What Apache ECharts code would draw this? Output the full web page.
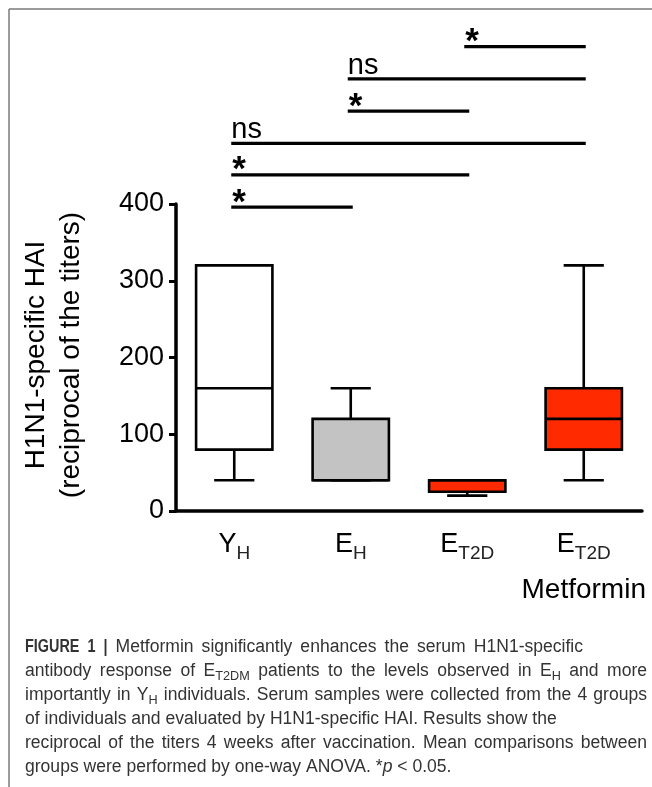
<!DOCTYPE html>
<html>
<head>
<meta charset="utf-8">
<script src="https://cdn.jsdelivr.net/npm/echarts@6/dist/echarts.min.js"></script>
<style>
html,body{margin:0;padding:0;background:#fff;}
#chart{width:652px;height:787px;}
</style>
</head>
<body>
<div id="chart"></div>
<script>
// ---- data ----
const categories = ['YH', 'EH', 'ET2D', 'ET2D Metformin'];
const labelMain = ['Y', 'E', 'E', 'E'];
const labelSub = ['H', 'H', 'T2D', 'T2D'];
const labelLine2 = ['', '', '', 'Metformin'];

const boxMin    = [40, 40, 20, 40];
const boxQ1     = [80, 40, 25, 80];
const boxMedian = [160, 40, 40, 120];
const boxQ3     = [320, 120, 40, 160];
const boxMax    = [320, 160, 40, 320];
const boxColors = ['#ffffff', '#c3c3c3', '#ff2a00', '#ff2a00'];

const sigFrom  = [0, 0, 0, 1, 1, 2];
const sigTo    = [1, 2, 3, 2, 3, 3];
const sigY     = [396, 438, 479, 521, 563, 605];
const sigLabel = ['*', '*', 'ns', '*', 'ns', '*'];

const yTicks = [0, 100, 200, 300, 400];

// caption words: {b|..} bold, {s|..} subscript, {i|..} italic
const captionLines = [
  '{b|FIGURE} {b|1} {b||} Metformin significantly enhances the serum H1N1-specific',
  'antibody response of E{s|T2DM} patients to the levels observed in E{s|H} and more',
  'importantly in Y{s|H} individuals. Serum samples were collected from the 4 groups',
  'of individuals and evaluated by H1N1-specific HAI. Results show the',
  'reciprocal of the titers 4 weeks after vaccination. Mean comparisons between',
  'groups were performed by one-way ANOVA. *{i|p} < 0.05.'
];
const captionJustifyTo = [583, 647, 647, null, 647, null];

// ---- build ----
const FONT = '"Liberation Sans", Arial, Helvetica, sans-serif';
const boxData = categories.map((c, i) => [i, boxMin[i], boxQ1[i], boxMedian[i], boxQ3[i], boxMax[i]]);
const sigData = sigFrom.map((f, i) => [f, sigTo[i], sigY[i]]);

function renderBox(params, api) {
  const i = api.value(0);
  const band = api.size([1, 0])[0];
  const bw = band * 0.655, cw = band * 0.345;
  const x = api.coord([i, 0])[0];
  const yMin = api.coord([i, api.value(1)])[1];
  const yQ1 = api.coord([i, api.value(2)])[1];
  const yMed = api.coord([i, api.value(3)])[1];
  const yQ3 = api.coord([i, api.value(4)])[1];
  const yMax = api.coord([i, api.value(5)])[1];
  const ls = { stroke: '#000', lineWidth: 2.6 };
  return {
    type: 'group',
    children: [
      { type: 'line', shape: { x1: x, y1: yQ1, x2: x, y2: yMin }, style: ls },
      { type: 'line', shape: { x1: x - cw / 2, y1: yMin, x2: x + cw / 2, y2: yMin }, style: ls },
      { type: 'line', shape: { x1: x, y1: yQ3, x2: x, y2: yMax }, style: ls },
      { type: 'line', shape: { x1: x - cw / 2, y1: yMax, x2: x + cw / 2, y2: yMax }, style: ls },
      { type: 'rect', shape: { x: x - bw / 2, y: yQ3, width: bw, height: yQ1 - yQ3 },
        style: { fill: boxColors[params.dataIndex], stroke: '#000', lineWidth: 2.6 } },
      { type: 'line', shape: { x1: x - bw / 2, y1: yMed, x2: x + bw / 2, y2: yMed }, style: ls }
    ]
  };
}

function renderSig(params, api) {
  const y = api.coord([0, api.value(2)])[1];
  const x1 = api.coord([api.value(0), 0])[0] - 3;
  const x2 = api.coord([api.value(1), 0])[0] + 2;
  const lab = sigLabel[params.dataIndex];
  const isStar = lab === '*';
  return {
    type: 'group',
    children: [
      { type: 'line', shape: { x1: x1, y1: y, x2: x2, y2: y }, style: { stroke: '#000', lineWidth: 3.2 } },
      { type: 'text', x: x1 + (isStar ? 1 : 0), y: isStar ? y - 4 : y - 13,
        style: { text: lab, textAlign: 'left', align: 'left', textVerticalAlign: 'middle', verticalAlign: 'middle',
                 font: isStar ? 'bold 35px ' + FONT : '29px ' + FONT, fill: '#000' } }
    ]
  };
}

// ---- caption layout (word placement with justification) ----
const CAP_SIZE = 18, SUB_SIZE = 13, BASE_SCALE = 0.975, BOLD_SCALE = 0.8;
const mctx = document.createElement('canvas').getContext('2d');
function fontFor(st) {
  if (st === 'b') return 'bold ' + CAP_SIZE + 'px ' + FONT;
  if (st === 'i') return 'italic ' + CAP_SIZE + 'px ' + FONT;
  if (st === 's') return SUB_SIZE + 'px ' + FONT;
  return CAP_SIZE + 'px ' + FONT;
}
function tokenize(word) {
  const out = [];
  const re = /\{(\w)\|([^}]*)\}|([^{]+)/g;
  let m;
  while ((m = re.exec(word))) {
    if (m[1]) out.push({ st: m[1], t: m[2] }); else out.push({ st: null, t: m[3] });
  }
  return out;
}
function measureWord(word) {
  return tokenize(word).reduce((w, tk) => { mctx.font = fontFor(tk.st); return w + mctx.measureText(tk.t).width; }, 0);
}
const capRich = {
  b: { fontWeight: 'bold', fontSize: CAP_SIZE, lineHeight: 24, fontFamily: FONT, color: '#1a1a1a' },
  s: { fontSize: SUB_SIZE, lineHeight: 14, verticalAlign: 'bottom', fontFamily: FONT, color: '#333' },
  i: { fontStyle: 'italic', fontSize: CAP_SIZE, lineHeight: 24, fontFamily: FONT, color: '#333' }
};
const captionEls = [];
const CAP_X = 25, CAP_Y0 = 647, CAP_DY = 24;
captionLines.forEach((line, k) => {
  const words = line.split(' ');
  const items = words.map(w => {
    const bold = /^\{b\|/.test(w);
    const sc = bold ? BOLD_SCALE : BASE_SCALE;
    return { w, sc, width: measureWord(w) * sc };
  });
  mctx.font = fontFor(null);
  const spaceW = mctx.measureText(' ').width * BASE_SCALE;
  const total = items.reduce((a, b) => a + b.width, 0);
  let gap = spaceW;
  if (captionJustifyTo[k] && items.length > 1) {
    gap = Math.max(spaceW * 0.8, (captionJustifyTo[k] - CAP_X - total) / (items.length - 1));
  }
  let x = CAP_X;
  items.forEach(it => {
    captionEls.push({
      type: 'text', x: x, y: CAP_Y0 + CAP_DY * k, scaleX: it.sc,
      style: { text: it.w, rich: capRich, fontSize: CAP_SIZE, lineHeight: 24, fontFamily: FONT, fill: '#333',
               textAlign: 'left', align: 'left', textVerticalAlign: 'middle', verticalAlign: 'middle' }
    });
    x += it.width + gap;
  });
});

const chart = echarts.init(document.getElementById('chart'), null, { renderer: 'canvas' });

const graphics = [
  { type: 'line', shape: { x1: 9, y1: 9, x2: 652, y2: 9 }, style: { stroke: '#7a7a7a', lineWidth: 1.5 } },
  { type: 'line', shape: { x1: 9, y1: 9, x2: 9, y2: 787 }, style: { stroke: '#7a7a7a', lineWidth: 1.5 } },
  { type: 'text', x: 54, y: 355, rotation: Math.PI / 2,
    style: { text: 'H1N1-specific HAI\n(reciprocal of the titers)', font: '28px ' + FONT, lineHeight: 35,
             textAlign: 'center', align: 'center', textVerticalAlign: 'middle', verticalAlign: 'middle', fill: '#000' } }
].concat(captionEls);

chart.setOption({
  animation: false,
  backgroundColor: '#fff',
  grid: { left: 176, right: 10, top: 204, bottom: 276, containLabel: false },
  xAxis: {
    type: 'category',
    data: categories,
    boundaryGap: true,
    axisLine: { lineStyle: { color: '#000', width: 3.5 } },
    axisTick: { alignWithLabel: true, length: 8, lineStyle: { color: '#000', width: 3 } },
    axisLabel: {
      margin: 16, interval: 0, color: '#000',
      formatter: (v, idx) => {
        let s = '{m|' + labelMain[idx] + '}{s|' + labelSub[idx] + '}';
        if (labelLine2[idx]) s += '\n{l|' + labelLine2[idx] + '}';
        return s;
      },
      rich: {
        m: { fontSize: 27, lineHeight: 36, fontFamily: FONT, color: '#000' },
        s: { fontSize: 19, lineHeight: 16, verticalAlign: 'bottom', fontFamily: FONT, color: '#222' },
        l: { fontSize: 28, lineHeight: 54, fontFamily: FONT, color: '#000' }
      }
    },
    splitLine: { show: false }
  },
  yAxis: {
    type: 'value', min: 0, max: 400, interval: 100,
    axisLine: { show: true, lineStyle: { color: '#000', width: 3.5 } },
    axisTick: { show: true, length: 7, lineStyle: { color: '#000', width: 3 } },
    axisLabel: { fontSize: 27, fontFamily: FONT, color: '#000', margin: 12,
                 formatter: v => (yTicks.indexOf(v) >= 0 ? String(v) : '') },
    splitLine: { show: false }
  },
  series: [
    { type: 'custom', name: 'box', data: boxData, encode: { x: 0, y: [1, 2, 3, 4, 5] }, renderItem: renderBox, clip: false, z: 3 },
    { type: 'custom', name: 'sig', data: sigData, encode: { x: [0, 1], y: 2 }, renderItem: renderSig, clip: false, z: 4 }
  ],
  graphic: graphics
});
</script>
</body>
</html>
